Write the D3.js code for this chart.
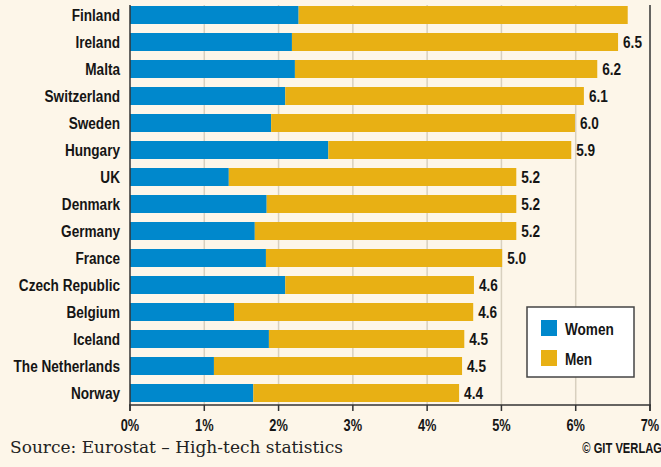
<!DOCTYPE html>
<html>
<head>
<meta charset="utf-8">
<script src="https://cdn.jsdelivr.net/npm/d3@7"></script>
<style>
  body { margin: 0; background: #fdf6e9; }
  svg { display: block; }
  .lbl { font-family: "Liberation Sans", Arial, sans-serif; font-weight: bold; fill: #151515; }
</style>
</head>
<body>
<script>
// data
var countries = ["Finland", "Ireland", "Malta", "Switzerland", "Sweden", "Hungary", "UK", "Denmark",
  "Germany", "France", "Czech Republic", "Belgium", "Iceland", "The Netherlands", "Norway"];
var women = [2.27, 2.18, 2.22, 2.09, 1.90, 2.67, 1.33, 1.84, 1.68, 1.83, 2.09, 1.40, 1.87, 1.13, 1.66];
var totals = [6.70, 6.57, 6.29, 6.11, 5.99, 5.94, 5.20, 5.20, 5.20, 5.01, 4.63, 4.62, 4.50, 4.47, 4.43];
var labels = ["", "6.5", "6.2", "6.1", "6.0", "5.9", "5.2", "5.2", "5.2", "5.0", "4.6", "4.6", "4.5", "4.5", "4.4"];
var ticks = [0, 1, 2, 3, 4, 5, 6, 7];
var series = ["Women", "Men"];
var colors = ["#0088cc", "#e8b014"];

var width = 661, height = 467;
var squeeze = 0.8; // condensed look

var rows = countries.map(function(c, i) {
  return { name: c, women: women[i], men: totals[i] - women[i], label: labels[i] };
});

var svg = d3.select("body").append("svg")
  .attr("width", width)
  .attr("height", height);

svg.append("rect").attr("width", width).attr("height", height).attr("fill", "#fdf6e9");

var x = d3.scaleLinear().domain([0, 7]).range([130, 650]);
var y = d3.scaleBand().domain(countries).range([1.5, 406.5])
  .paddingInner(1/3).paddingOuter(1/6);

// condensed bold text
function ctext(parent, px, py, str, size, anchor) {
  return parent.append("g")
    .attr("transform", "translate(" + px + "," + py + ") scale(" + squeeze + ",1)")
    .append("text")
    .attr("class", "lbl")
    .attr("text-anchor", anchor || "start")
    .style("font-size", size + "px")
    .text(str);
}

// grid
svg.selectAll(".grid")
  .data(ticks.filter(function(t) { return t > 0 && t < 7; }))
  .enter().append("line")
  .attr("x1", function(d) { return x(d); })
  .attr("x2", function(d) { return x(d); })
  .attr("y1", 5).attr("y2", 405)
  .attr("stroke", "#d8d0bf")
  .attr("stroke-width", 1.5);

var stack = d3.stack().keys(["women", "men"])(rows);

svg.selectAll(".series")
  .data(stack)
  .enter().append("g")
  .attr("fill", function(d, i) { return colors[i]; })
  .selectAll("rect")
  .data(function(d) { return d; })
  .enter().append("rect")
  .attr("x", function(d) { return x(d[0]); })
  .attr("width", function(d) { return x(d[1]) - x(d[0]); })
  .attr("y", function(d) { return y(d.data.name); })
  .attr("height", y.bandwidth());

// value labels
rows.forEach(function(d) {
  ctext(svg, x(d.women + d.men) + 5, y(d.name) + y.bandwidth() / 2 + 6, d.label, 17);
});

// category labels
countries.forEach(function(c) {
  ctext(svg, 120, y(c) + y.bandwidth() / 2 + 6, c, 17, "end");
});

// axes lines
svg.append("line").attr("x1", 130).attr("x2", 130).attr("y1", 5).attr("y2", 411)
  .attr("stroke", "#333").attr("stroke-width", 1.5);
svg.append("line").attr("x1", 650).attr("x2", 650).attr("y1", 5).attr("y2", 411)
  .attr("stroke", "#333").attr("stroke-width", 1.5);
svg.append("line").attr("x1", 129).attr("x2", 651).attr("y1", 405).attr("y2", 405)
  .attr("stroke", "#333").attr("stroke-width", 1.5);

svg.selectAll(".tick")
  .data(ticks)
  .enter().append("line")
  .attr("x1", function(d) { return x(d); })
  .attr("x2", function(d) { return x(d); })
  .attr("y1", 405).attr("y2", 411)
  .attr("stroke", "#333").attr("stroke-width", 1.5);

ticks.forEach(function(t) {
  ctext(svg, x(t), 431, t + "%", 16, "middle");
});

// legend
var lg = svg.append("g");
lg.append("rect").attr("x", 527).attr("y", 307).attr("width", 107).attr("height", 70)
  .attr("fill", "#ffffff").attr("stroke", "#444").attr("stroke-width", 1.5);
series.forEach(function(s, i) {
  lg.append("rect").attr("x", 541).attr("y", 320 + i * 30).attr("width", 16).attr("height", 16)
    .attr("fill", colors[i]);
  ctext(lg, 565, 335 + i * 30, s, 17);
});

svg.append("text")
  .attr("x", 10).attr("y", 453)
  .style("font-family", "'DejaVu Serif', serif")
  .style("font-size", "17px")
  .attr("fill", "#222")
  .text("Source: Eurostat \u2013 High-tech statistics");

ctext(svg, 662, 453, "\u00a9 GIT VERLAG", 14, "end");
</script>
</body>
</html>
